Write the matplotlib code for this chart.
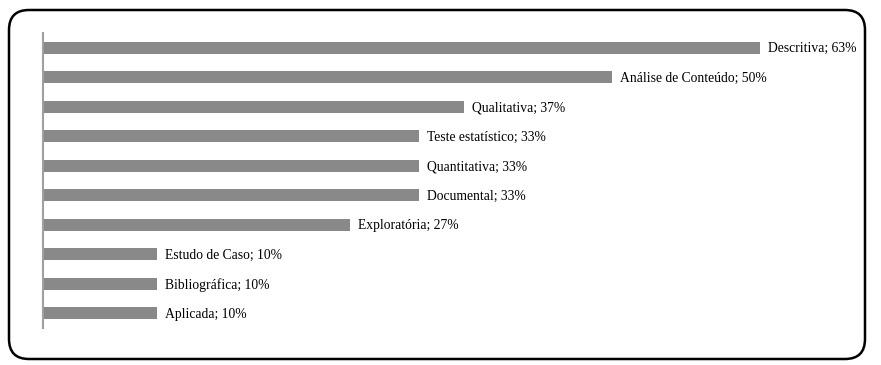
import matplotlib
matplotlib.use("Agg")
import matplotlib.pyplot as plt
from matplotlib.patches import FancyBboxPatch
from matplotlib import transforms

categories = ["Descritiva", "Análise de Conteúdo", "Qualitativa", "Teste estatístico",
              "Quantitativa", "Documental", "Exploratória", "Estudo de Caso",
              "Bibliográfica", "Aplicada"]
values = [63, 50, 37, 33, 33, 33, 27, 10, 10, 10]

W, H = 881, 365
fig = plt.figure(figsize=(W / 100, H / 100), dpi=100)
fig.patch.set_facecolor("white")

# rounded border
border = FancyBboxPatch((9 / W, 6 / H), (865 - 9) / W, (355 - 6) / H,
                        boxstyle="round,pad=0,rounding_size=%f" % (20 / W),
                        transform=fig.transFigure, facecolor="none",
                        edgecolor="black", linewidth=1.8, mutation_aspect=W / H)
fig.patches.append(border)

left_px, top_px, bot_px = 43, 33, 328
xmax = 70
px_per = (760 - 43) / 63
right_px = left_px + xmax * px_per
ax = fig.add_axes([left_px / W, 1 - bot_px / H, (right_px - left_px) / W, (bot_px - top_px) / H])

y = list(range(len(categories)))
ax.barh(y, values, height=0.4, color="#898989", edgecolor="none")
ax.set_xlim(0, xmax)
ax.set_ylim(len(categories) - 0.5, -0.5)

offset = transforms.offset_copy(ax.transData, fig=fig, x=8, y=-1, units="dots")
for yi, v, c in zip(y, values, categories):
    ax.text(v, yi, f"{c}; {v}%", transform=offset, va="center", ha="left",
            fontsize=9.8, family="Liberation Serif", color="black", clip_on=False)

for s in ["top", "right", "bottom"]:
    ax.spines[s].set_visible(False)
ax.spines["left"].set_color("#a0a0a0")
ax.spines["left"].set_linewidth(1.5)
ax.set_xticks([])
ax.set_yticks([])

fig.savefig("out.png", dpi=100)
